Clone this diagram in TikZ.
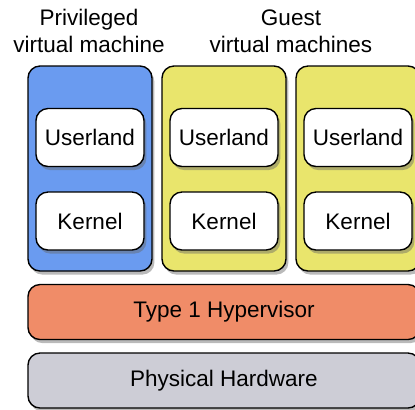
\documentclass[tikz,border=0pt]{standalone}
\usepackage{fontspec}
\setmainfont{Liberation Sans}
\usepackage{tikz}
\usetikzlibrary{shadows,positioning}
\definecolor{privblue}{RGB}{106,155,240}
\definecolor{guestyellow}{RGB}{233,229,108}
\definecolor{hyperorange}{RGB}{240,140,104}
\definecolor{hwgray}{RGB}{205,205,214}

\begin{document}
\begin{tikzpicture}[x=0.5pt,y=-0.5pt,on grid,node distance=67pt,
    box/.style={draw=black,line width=0.7pt,rounded corners=6pt,
        drop shadow={shadow xshift=1.2pt,shadow yshift=-1.8pt,opacity=0.45,fill=black!60}},
    vm/.style={box,minimum width=62pt,minimum height=102.5pt},
    part/.style={box,fill=white,minimum width=54pt,minimum height=29pt},
    layer/.style={box,minimum width=196pt,minimum height=27.5pt},
    every node/.style={font=\fontsize{11.25}{13.5}\selectfont,inner sep=0pt}]

        \useasboundingbox (0,0) rectangle (415,409);

        \node[vm,fill=privblue] (vm_1) at (90,168.5) {};
        \node[vm,fill=guestyellow] (vm_2) [right=of vm_1] {};
        \node[vm,fill=guestyellow] (vm_3) [right=of vm_2] {};

        \foreach \v in {1,2,3} {
            \node[part] (user_\v) at ([yshift=15.5pt]vm_\v.center) {Userland};
            \node[part] (kern_\v) at ([yshift=-26.25pt]vm_\v.center) {Kernel};
        }

        \node[layer,fill=hyperorange] (hyper) at (224,312) {Type 1 Hypervisor};
        \node[layer,fill=hwgray] (hw) at (224,380.5) {Physical Hardware};

        \node[align=center] (priv_lbl) at (89,31) {Privileged\\virtual machine};
        \node[align=center] (guest_lbl) at (291,31) {Guest\\virtual machines};

    \end{tikzpicture}
\end{document}
